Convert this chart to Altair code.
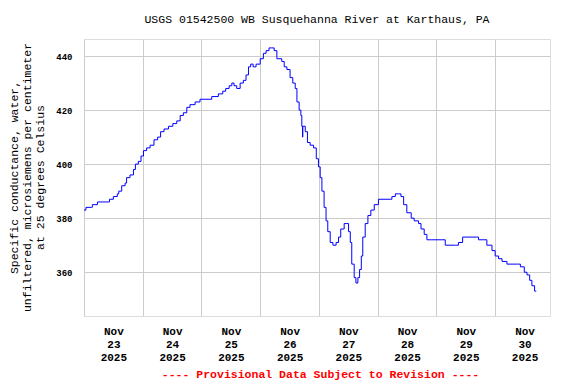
import altair as alt
import pandas as pd

# hours since 2025-11-23 00:00 and specific conductance (uS/cm)
hours = [0.0, 0.8, 3.1, 3.4, 5.5, 9.9, 10.4, 12.0, 13.6, 14.2, 15.4, 16.8, 17.4, 18.8,
         20.2, 21.0, 22.2, 23.3, 24.3, 25.6, 27.0, 28.6, 30.1, 31.3, 32.7, 34.5, 36.3,
         37.9, 39.3, 40.6, 42.0, 43.3, 45.4, 47.4, 52.2, 54.9, 56.7, 57.9, 59.3, 60.4,
         61.3, 62.4, 63.8, 65.1, 66.2, 67.2, 68.1, 69.1, 70.3, 72.0, 73.3, 74.4, 75.6,
         76.7, 77.7, 78.8, 80.8, 81.8, 82.9, 84.2, 85.3, 86.3, 87.0, 87.9, 88.6, 89.0,
         89.3, 89.4, 90.4, 91.3, 92.4, 93.8, 94.9, 95.8, 96.5, 97.2, 98.1, 98.9, 99.6,
         100.6, 101.7, 103.0, 104.0, 104.9, 106.3, 107.1, 108.1, 108.8, 109.4, 110.4,
         111.1, 111.9, 112.6, 113.3, 113.9, 114.9, 116.0, 117.2, 118.6, 120.3, 125.1,
         125.8, 127.2, 128.5, 129.5, 130.6, 131.9, 133.7, 134.9, 136.7, 137.7, 139.0,
         140.1, 142.1, 146.2, 147.6, 151.7, 153.0, 154.7, 160.3, 161.2, 163.0, 164.6,
         166.7, 168.0, 169.4, 170.8, 172.8, 177.2, 178.3, 179.9, 181.0, 182.1, 183.0,
         184.1, 184.8]
values = [383, 384, 384, 385, 386, 386, 387, 388, 389, 390, 392, 393, 395, 396,
          398, 400, 401, 403, 405, 406, 407, 409, 410, 412, 413, 414, 415,
          416, 418, 419, 421, 422, 423, 424, 425, 426, 427, 428, 429, 430,
          429, 428, 430, 431, 433, 436, 437, 436, 437, 439, 441, 442, 443,
          443, 442, 439, 438, 436, 435, 432, 430, 428, 423, 420, 418, 414,
          410, 414, 412, 408, 407, 406, 402, 399, 395, 390, 384, 379, 375,
          371, 370, 371, 373, 376, 378, 378, 375, 371, 363, 358,
          356, 358, 361, 366, 373, 378, 381, 383, 385, 387, 387,
          388, 389, 389, 388, 385, 382, 380, 379, 378, 376, 374,
          372, 372, 372, 370, 370, 371, 373, 373, 372, 372, 370,
          368, 366, 365, 364, 363, 363, 362, 360, 359, 357, 355,
          353, 353]

y_ticks = [360, 380, 400, 420, 440]
label_days = [23, 24, 25, 26, 27, 28, 29, 30]

chart_title = "USGS 01542500 WB Susquehanna River at Karthaus, PA"
y_title = ["Specific conductance, water,",
           "unfiltered, microsiemens per centimeter",
           "at 25 degrees Celsius"]
footer = "---- Provisional Data Subject to Revision ----"

start = pd.Timestamp("2025-11-23 00:00:00")
df = pd.DataFrame({
    "time": [(start + pd.Timedelta(hours=h)).strftime("%Y-%m-%dT%H:%M:%S") for h in hours],
    "value": values,
})

x_values = []
for d in label_days:
    x_values.append(alt.DateTime(year=2025, month=11, date=d, hours=0))
    x_values.append(alt.DateTime(year=2025, month=11, date=d, hours=12))

FONT = "Liberation Mono"

chart = alt.Chart(df).mark_line(color="#0000ff", strokeWidth=1, interpolate="step-after").encode(
    x=alt.X("time:T",
            scale=alt.Scale(domain=[alt.DateTime(year=2025, month=11, date=23, hours=0),
                                    alt.DateTime(year=2025, month=11, date=30, hours=22, minutes=24)]),
            axis=alt.Axis(values=x_values, ticks=False, tickSize=0, domain=False,
                          grid=True, gridColor="#cccccc", gridWidth=1,
                          gridOpacity={"condition": {"test": "hours(datum.value) == 0", "value": 1}, "value": 0},
                          labelExpr="hours(datum.value) == 12 ? [timeFormat(datum.value, '%b'), timeFormat(datum.value, '%d'), timeFormat(datum.value, '%Y')] : ''",
                          labelOverlap=False, labelFlush=False, labelAlign="center",
                          labelBaseline="top", labelPadding=9, labelLineHeight=13,
                          labelFont=FONT, labelFontSize=11, labelFontWeight="bold", labelColor="black",
                          title=footer, titleFont=FONT, titleFontSize=11.5, titleFontWeight="bold",
                          titleColor="#ff0000", titleX=236, titleY=58, titleBaseline="middle",
                          titleAlign="center")),
    y=alt.Y("value:Q",
            scale=alt.Scale(domain=[343.8, 446.3], nice=False, zero=False),
            axis=alt.Axis(values=y_ticks, ticks=False, tickSize=0, domain=False,
                          grid=True, gridColor="#cccccc", gridWidth=1,
                          labelFont=FONT, labelFontSize=9, labelFontWeight="bold", labelColor="black",
                          labelPadding=12,
                          title=y_title, titleFont=FONT, titleFontSize=11.5, titleFontWeight="normal",
                          titleColor="black", titleAngle=270, titleX=-70, titleY=138,
                          titleBaseline="middle", titleAlign="center", titleLineHeight=13)),
).properties(
    width=466,
    height=277,
    title=alt.TitleParams(chart_title, font=FONT, fontSize=11.5, fontWeight="normal",
                          color="black", anchor="middle", offset=14),
    padding={"left": 76, "top": 31, "right": 10, "bottom": 70},
    autosize=alt.AutoSizeParams(type="none"),
).configure_view(
    stroke="black", strokeWidth=1
).configure(background="white")

chart.save("out.html", embed_options={"renderer": "svg", "actions": False})
